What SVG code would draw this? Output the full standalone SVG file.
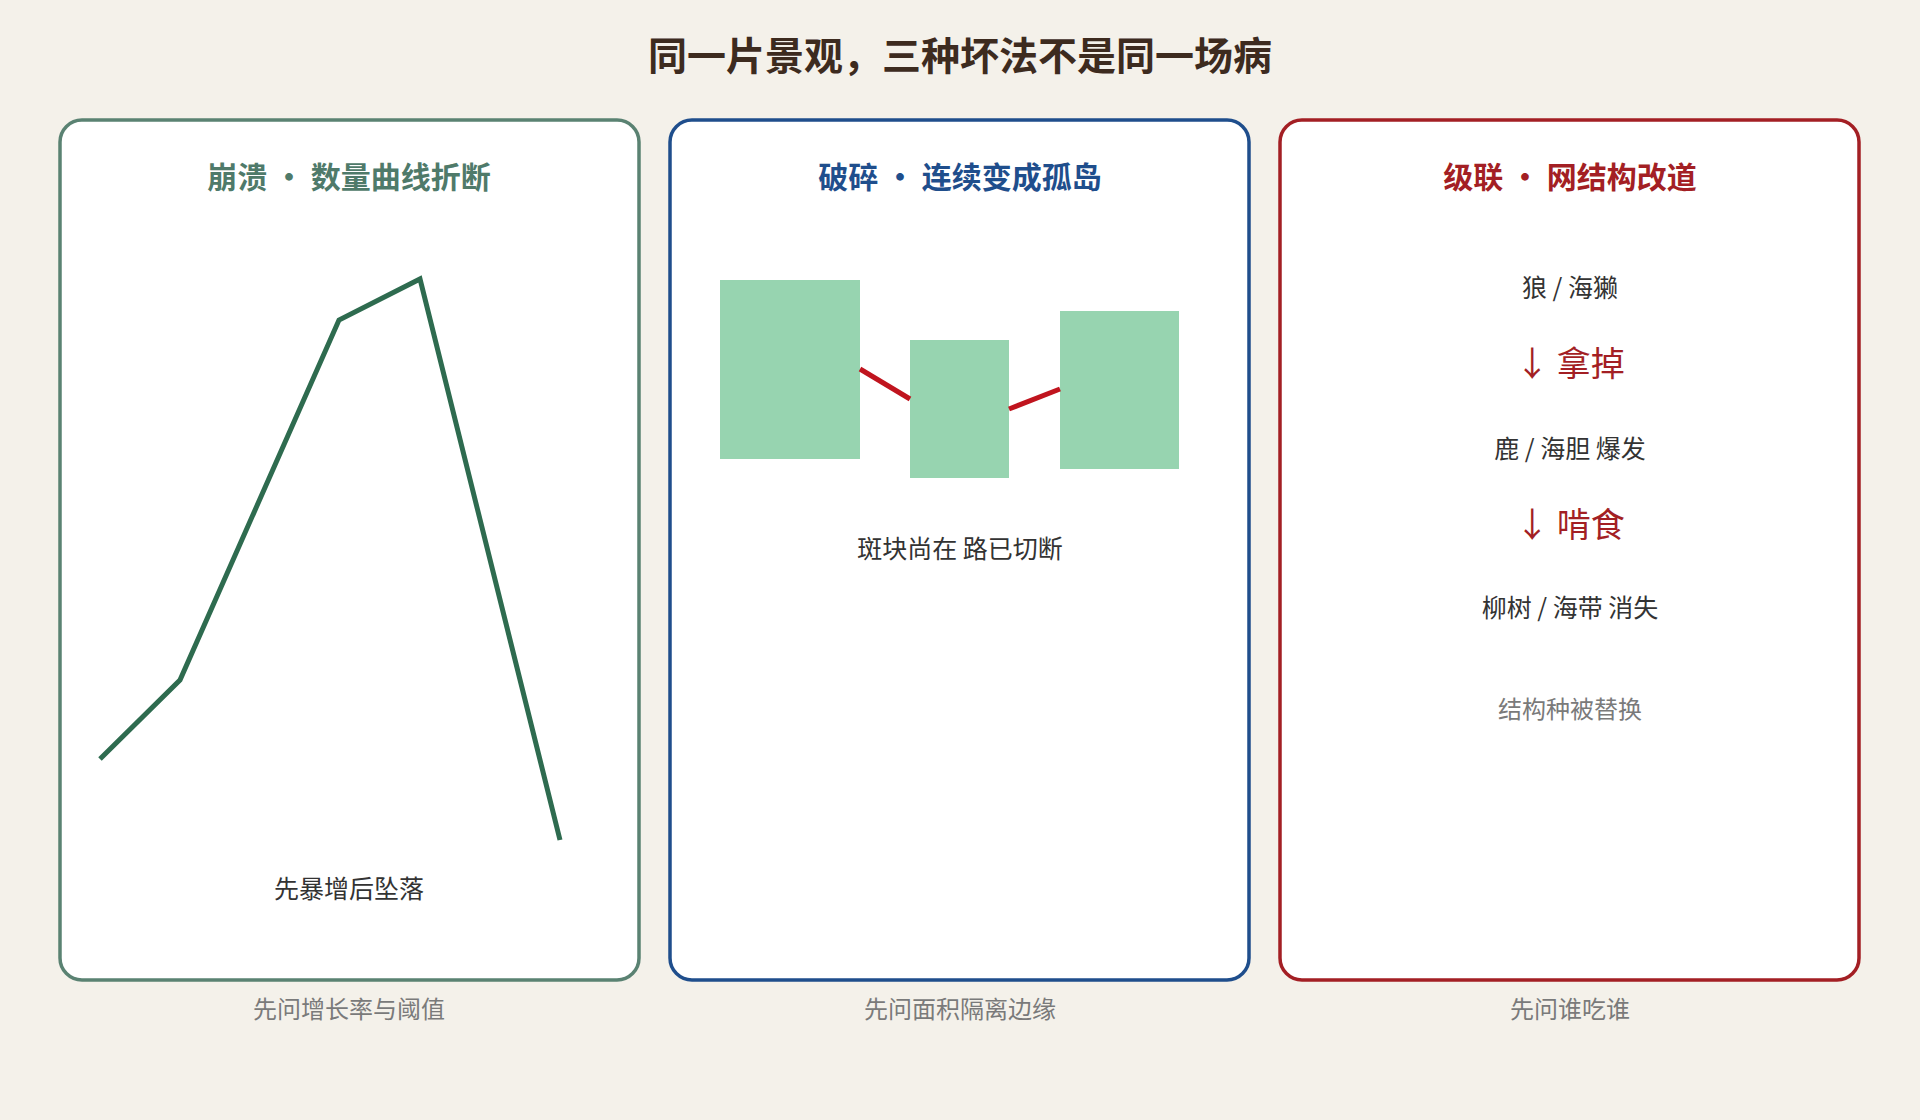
<svg xmlns="http://www.w3.org/2000/svg" width="1920" height="1120" viewBox="0 0 1920 1120">
<style>
text{font-family:"Noto Sans CJK SC","Noto Sans",sans-serif;text-anchor:middle;dominant-baseline:middle}
.panel{fill:#fff;stroke-width:3.5}
.pt{font-size:30px;font-weight:bold}
.t{font-size:25px;fill:#333}
.g{font-size:24px;fill:#7a7a7a}
.r{font-size:34px;fill:#a31f24}
.patch{fill:#97d4b0}
.link{stroke:#c0141e;stroke-width:5;fill:none}
</style>
<rect width="1920" height="1120" fill="#f4f1ea"/>
<text x="960" y="59" font-size="39" font-weight="bold" fill="#3d2b1f">同一片景观，三种坏法不是同一场病</text>
<g id="collapse">
<rect class="panel" x="60" y="120" width="579" height="860" rx="22" stroke="#5a8272"/>
<text class="pt" x="349" y="180" fill="#4f7a6a">崩溃 • 数量曲线折断</text>
<polyline points="100,759 180,680 339,320 420,279 560,840" fill="none" stroke="#2e6b4f" stroke-width="5"/>
<text class="t" x="349" y="891">先暴增后坠落</text>
</g>
<g id="fragment">
<rect class="panel" x="670" y="120" width="579" height="860" rx="22" stroke="#1f4e8c"/>
<text class="pt" x="960" y="180" fill="#1f4e8c">破碎 • 连续变成孤岛</text>
<rect class="patch" x="720" y="280" width="140" height="179"/>
<rect class="patch" x="910" y="340" width="99" height="138"/>
<rect class="patch" x="1060" y="311" width="119" height="158"/>
<text class="t" x="960" y="551">斑块尚在 路已切断</text>
</g>
<g id="cascade">
<rect class="panel" x="1280" y="120" width="579" height="860" rx="22" stroke="#a31f24"/>
<text class="pt" x="1570" y="180" fill="#a31f24">级联 • 网结构改道</text>
<text class="t" x="1570" y="290">狼 / 海獭</text>
<text class="r" x="1570" y="367">↓ 拿掉</text>
<text class="t" x="1570" y="451">鹿 / 海胆 爆发</text>
<text class="r" x="1570" y="528">↓ 啃食</text>
<text class="t" x="1570" y="610">柳树 / 海带 消失</text>
<text class="g" x="1570" y="711">结构种被替换</text>
</g>
<g id="connectors">
<line class="link" x1="860" y1="369" x2="910" y2="399"/>
<line class="link" x1="1009" y1="409" x2="1060" y2="389"/>
</g>
<g id="notes">
<text class="g" x="349" y="1011">先问增长率与阈值</text>
<text class="g" x="960" y="1011">先问面积隔离边缘</text>
<text class="g" x="1570" y="1011">先问谁吃谁</text>
</g>
</svg>
